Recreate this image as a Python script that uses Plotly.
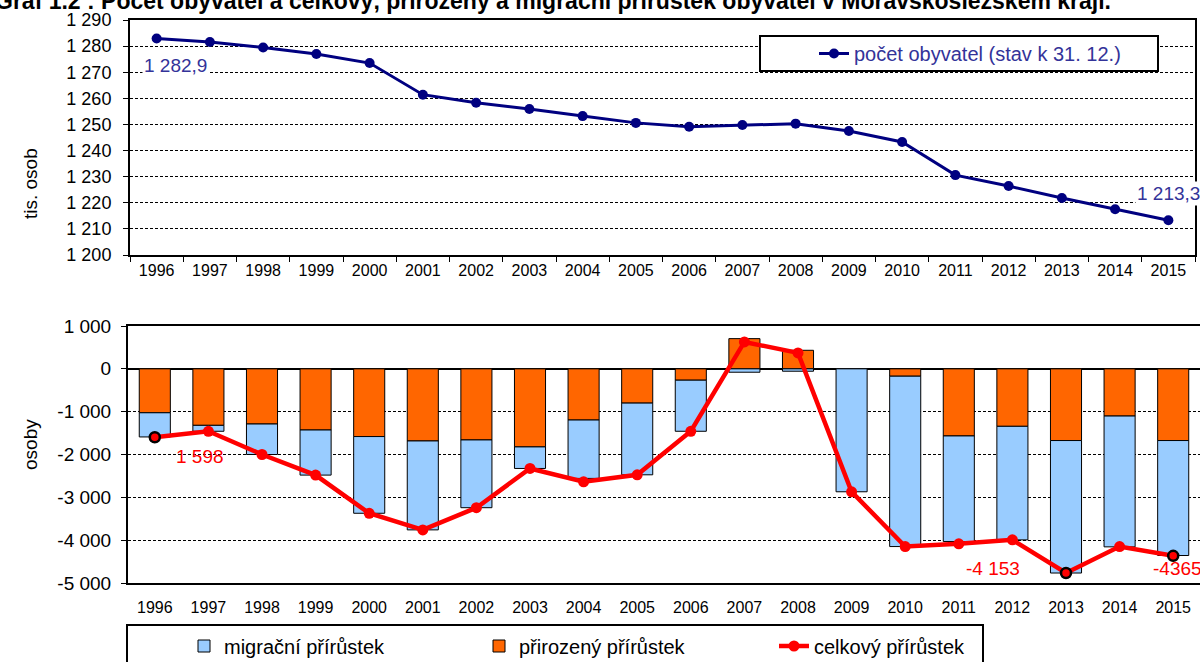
import plotly.graph_objects as go

# ---------------- data ----------------
years = [str(y) for y in range(1996, 2016)]
population = [1282.9, 1281.6, 1279.5, 1277.0, 1273.5, 1261.4, 1258.3, 1255.9, 1253.2, 1250.6,
              1249.1, 1249.8, 1250.3, 1247.5, 1243.3, 1230.6, 1226.4, 1221.8, 1217.5, 1213.3]
natural = [-1026, -1319, -1288, -1428, -1581, -1684, -1660, -1823, -1195, -800,
           -265, 705, 433, 0, -172, -1567, -1342, -1674, -1102, -1674]
migration = [-564, -139, -712, -1053, -1791, -2076, -1582, -503, -1363, -1674,
             -1193, -79, -56, -2870, -3977, -2465, -2651, -3093, -3054, -2684]
total = [-1598, -1458, -2000, -2481, -3372, -3760, -3242, -2326, -2637, -2474,
         -1458, 628, 372, -2870, -4149, -4086, -3993, -4767, -4149, -4365]

top_tickvals = [1200, 1210, 1220, 1230, 1240, 1250, 1260, 1270, 1280, 1290]
top_ticktext = ["1 200", "1 210", "1 220", "1 230", "1 240", "1 250", "1 260", "1 270", "1 280", "1 290"]
bot_tickvals = [-5000, -4000, -3000, -2000, -1000, 0, 1000]
bot_ticktext = ["-5 000", "-4 000", "-3 000", "-2 000", "-1 000", "0", "1 000"]

highlight_years = ["1996", "2013", "2015"]
total_labels = {"1996": "1 598", "2012": "-4 153", "2015": "-4365"}

title_text = "Graf 1.2 : Počet obyvatel a celkový, přirozený a migrační přírůstek obyvatel v Moravskoslezském kraji."

# ---------------- styling ----------------
W, H = 1200, 662
FONT = "Liberation Sans, Arial, sans-serif"
NAVY = "#000080"
LBLUE = "#333399"
RED = "#FF0000"
BLUE_BAR = "#99CCFF"
ORANGE_BAR = "#FF6600"
YEAR_FS = 16
YTOP_FS = 18
YBOT_FS = 19
LBL_FS = 19
LEG_FS = 20


def px(x):
    return x / W


def py(y):
    return 1 - y / H


def fmt_pop(v):
    s = f"{v:,.1f}"
    return s.replace(",", " ").replace(".", ",")


fig = go.Figure()

fig.add_trace(go.Scatter(
    x=years, y=population, mode="lines+markers", name="počet obyvatel (stav k 31. 12.)",
    line=dict(color=NAVY, width=3), marker=dict(size=10, color=NAVY),
    xaxis="x", yaxis="y", legend="legend"))

fig.add_trace(go.Bar(
    x=years, y=natural, name="přirozený přírůstek",
    marker=dict(color=ORANGE_BAR, line=dict(color="black", width=1)),
    xaxis="x2", yaxis="y2", legend="legend2", legendrank=2))
fig.add_trace(go.Bar(
    x=years, y=migration, name="migrační přírůstek",
    marker=dict(color=BLUE_BAR, line=dict(color="black", width=1)),
    xaxis="x2", yaxis="y2", legend="legend2", legendrank=1))
fig.add_trace(go.Scatter(
    x=years, y=total, mode="lines+markers", name="celkový přírůstek",
    line=dict(color=RED, width=4.5), marker=dict(size=11, color=RED),
    xaxis="x2", yaxis="y2", legend="legend2", legendrank=3))
hx = [y for y in years if y in highlight_years]
hy = [total[years.index(y)] for y in hx]
fig.add_trace(go.Scatter(
    x=hx, y=hy, mode="markers", showlegend=False,
    marker=dict(size=10, color=RED, line=dict(color="black", width=2.5)),
    xaxis="x2", yaxis="y2"))

axis_common = dict(showline=True, linecolor="black", linewidth=2, automargin=False)
cat_range = [-0.5, len(years) - 0.5]


def tf(size):
    return dict(size=size, color="black", family=FONT)


annotations = [
    dict(text=f"<b>{title_text}</b>", xref="paper", yref="paper", x=px(-7), y=py(1),
         xanchor="left", yanchor="middle", showarrow=False, font=tf(23)),
    dict(text="tis. osob", xref="paper", yref="paper", x=px(18), y=py(146), textangle=-90,
         showarrow=False, font=tf(LBL_FS)),
    dict(text="osoby", xref="paper", yref="paper", x=px(18), y=py(472), textangle=-90,
         showarrow=False, font=tf(LBL_FS)),
    dict(text=fmt_pop(population[0]), xref="x", yref="y", x=0, y=population[0],
         xshift=19, yshift=-27, showarrow=False, bgcolor="white",
         font=dict(size=LBL_FS, color=LBLUE, family=FONT)),
    dict(text=fmt_pop(population[-1]), xref="x", yref="y", x=len(years) - 1, y=population[-1],
         xshift=0, yshift=27, showarrow=False, bgcolor="white",
         font=dict(size=LBL_FS, color=LBLUE, family=FONT)),
]
shifts = {"1996": (45, -19), "2012": (-19, -29), "2015": (4, -13)}
for yr, txt in total_labels.items():
    i = years.index(yr)
    annotations.append(dict(text=txt, xref="x2", yref="y2", x=i, y=total[i],
                            xshift=shifts[yr][0], yshift=shifts[yr][1], showarrow=False,
                            font=dict(size=LBL_FS, color=RED, family=FONT)))

shapes = [
    dict(type="rect", xref="paper", yref="paper", x0=px(760), x1=px(1158), y0=py(71), y1=py(36),
         line=dict(color="black", width=2), fillcolor="white", layer="above"),
    dict(type="rect", xref="paper", yref="paper", x0=px(127), x1=px(983), y0=py(680), y1=py(625),
         line=dict(color="black", width=2), fillcolor="white", layer="above"),
]

fig.update_layout(
    width=W, height=H, margin=dict(l=0, r=0, t=0, b=0, autoexpand=False),
    paper_bgcolor="white", plot_bgcolor="white",
    font=dict(family=FONT, color="black", size=17),
    barmode="relative", bargap=0.42,
    xaxis=dict(domain=[px(130), px(1195)], anchor="y", type="category", range=cat_range,
               tickson="boundaries", ticks="outside", ticklen=5, tickcolor="black", tickangle=0,
               mirror=True, showgrid=False, tickfont=tf(YEAR_FS), **axis_common),
    yaxis=dict(domain=[py(255), py(20)], anchor="x", range=[1200, 1290],
               tickvals=top_tickvals, ticktext=top_ticktext, tickfont=tf(YTOP_FS),
               ticks="outside", ticklen=5, tickcolor="black", ticklabelstandoff=8,
               mirror=True, showgrid=True, gridcolor="black", gridwidth=1, griddash="3px,2px",
               zeroline=False, **axis_common),
    xaxis2=dict(domain=[px(128), 1], anchor="y2", type="category", range=cat_range, tickangle=0,
                ticks="", mirror=True, showgrid=False, ticklabelstandoff=9,
                tickfont=tf(YEAR_FS), **axis_common),
    yaxis2=dict(domain=[py(583), py(326)], anchor="x2", range=[-5000, 1000],
                tickvals=bot_tickvals, ticktext=bot_ticktext, tickfont=tf(YBOT_FS),
                ticks="outside", ticklen=5, tickcolor="black", ticklabelstandoff=6,
                showgrid=True, gridcolor="black", gridwidth=1, griddash="3px,2px",
                zeroline=True, zerolinecolor="black", zerolinewidth=2, **axis_common),
    xaxis3=dict(overlaying="x2", anchor="free", position=py(369), type="linear",
                range=cat_range, tickvals=[i + 0.5 for i in range(len(years) - 1)],
                ticks="outside", ticklen=6, tickcolor="black", showticklabels=False,
                showline=False, showgrid=False, zeroline=False, layer="below traces"),
    legend=dict(x=px(814), y=py(53.5), xanchor="left", yanchor="middle",
                bgcolor="rgba(0,0,0,0)", borderwidth=0,
                font=dict(size=LEG_FS, color=LBLUE, family=FONT)),
    legend2=dict(orientation="h", x=px(184), y=py(646), xanchor="left", yanchor="middle",
                 bgcolor="rgba(0,0,0,0)", borderwidth=0, traceorder="normal",
                 entrywidth=250, entrywidthmode="pixels",
                 font=dict(size=LEG_FS, color="black", family=FONT)),
    annotations=annotations,
    shapes=shapes,
)

fig.write_html("out.html", config={"displayModeBar": False},
               post_script="document.body.style.margin='0';")
